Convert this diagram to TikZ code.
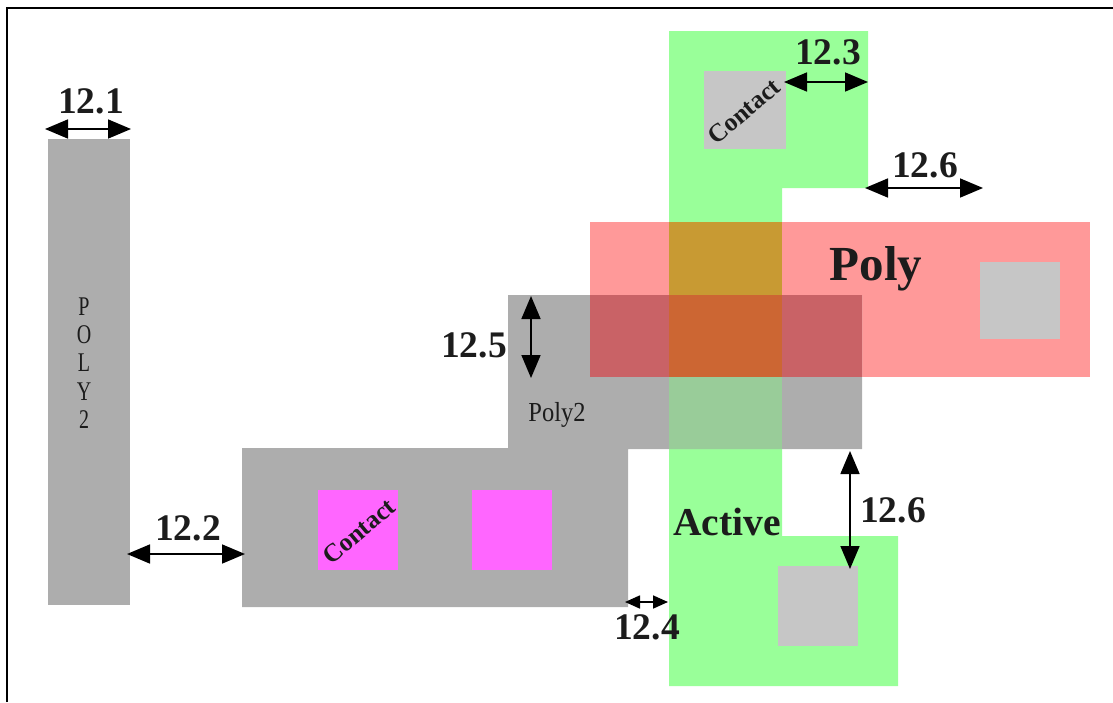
\documentclass[tikz,border=0pt]{standalone}
\usepackage{fontspec}
\setmainfont{Liberation Serif}
\usetikzlibrary{arrows.meta}
\definecolor{polyred}{HTML}{FF9999}
\definecolor{activegreen}{HTML}{99FF99}
\definecolor{polytwo}{HTML}{ADADAD}
\definecolor{contactgray}{HTML}{C6C6C6}
\definecolor{contactpink}{HTML}{FF66FF}
\definecolor{redgreen}{HTML}{C89A33}
\definecolor{redgray}{HTML}{C96266}
\definecolor{allthree}{HTML}{CC6633}
\definecolor{greengray}{HTML}{99CC99}
\definecolor{ink}{HTML}{1C1C1C}
\tikzset{
  dimlabel/.style={anchor=base,inner sep=0pt,text=ink,font=\bfseries\fontsize{37.5}{37.5}\selectfont},
  biglabel/.style={anchor=base,inner sep=0pt,text=ink,font=\bfseries\fontsize{49}{49}\selectfont},
  activelabel/.style={anchor=base,inner sep=0pt,text=ink,font=\bfseries\fontsize{39.5}{39.5}\selectfont},
  smalllabel/.style={inner sep=0pt,text=ink,font=\fontsize{25}{28.5}\selectfont},
  stacklabel/.style={inner sep=0pt,text=ink,font=\fontsize{25}{26.2}\selectfont},
  contactlabel/.style={inner sep=0pt,text=ink,rotate=40,font=\bfseries\fontsize{25.5}{25.5}\selectfont},
  dimarrow/.style={line width=1.7pt,black,{Stealth[length=23pt,width=19pt,inset=0pt]}-{Stealth[length=23pt,width=19pt,inset=0pt]}},
  tinyarrow/.style={line width=1.7pt,black,{Stealth[length=15pt,width=13pt,inset=0pt]}-{Stealth[length=15pt,width=13pt,inset=0pt]}}
}
\begin{document}
\begin{tikzpicture}[x=1pt,y=-1pt]
\useasboundingbox (0,0) rectangle (1113,702);
% frame
\draw[line width=2pt,black] (7,702) -- (7,8) -- (1113,8);
% active
\fill[activegreen] (669,31) -- (868,31) -- (868,188) -- (782,188) -- (782,536) -- (898,536) -- (898,686) -- (669,686) -- cycle;
% poly
\fill[polyred] (590,222) rectangle (1090,377);
% poly2
\fill[polytwo] (48,139) rectangle (130,605);
\fill[polytwo] (242,448) -- (508,448) -- (508,295) -- (862,295) -- (862,449) -- (628,449) -- (628,607) -- (242,607) -- cycle;
% overlaps
\fill[redgreen] (669,222) rectangle (782,295);
\fill[redgray] (590,295) rectangle (862,377);
\fill[allthree] (669,295) rectangle (782,377);
\fill[greengray] (669,377) rectangle (782,449);
% contacts
\fill[contactgray] (704,71) rectangle (786,149);
\fill[contactgray] (980,262) rectangle (1060,339);
\fill[contactgray] (778,566) rectangle (858,646);
\fill[contactpink] (318,490) rectangle (398,570);
\fill[contactpink] (472,490) rectangle (552,570);
% texts
\node[stacklabel,align=center,xscale=0.8,yscale=1.08] (vpoly) at (84,363) {P\\O\\L\\Y\\2};
\node[smalllabel,anchor=base,xscale=0.98,yscale=1.1] (hpoly) at (557,421) {Poly2};
\node[contactlabel] (c1) at (744,111) {Contact};
\node[contactlabel] (c2) at (359,531) {Contact};
\node[biglabel] (polyl) at (876,280) {Poly};
\node[activelabel] (activel) at (727,535) {Active};
\node[dimlabel] (d1) at (91,113) {12.1};
\node[dimlabel] (d2) at (188,540) {12.2};
\node[dimlabel] (d3) at (828,64) {12.3};
\node[dimlabel] (d4) at (647,639) {12.4};
\node[dimlabel] (d5) at (474,357) {12.5};
\node[dimlabel] (d6a) at (925,177) {12.6};
\node[dimlabel] (d6b) at (893,522) {12.6};
% arrow ends
\coordinate (a1l) at (45,129); \coordinate (a1r) at (131,129);
\coordinate (a2l) at (127,554); \coordinate (a2r) at (245,554);
\coordinate (a3l) at (784,82); \coordinate (a3r) at (868,82);
\coordinate (a4l) at (625,602); \coordinate (a4r) at (668,602);
\coordinate (a5t) at (531,296); \coordinate (a5b) at (531,378);
\coordinate (a6l) at (865,188); \coordinate (a6r) at (983,188);
\coordinate (a7t) at (850,451); \coordinate (a7b) at (850,569);
\draw[dimarrow] (a1l) -- (a1r);
\draw[dimarrow] (a2l) -- (a2r);
\draw[dimarrow] (a3l) -- (a3r);
\draw[tinyarrow] (a4l) -- (a4r);
\draw[dimarrow] (a5t) -- (a5b);
\draw[dimarrow] (a6l) -- (a6r);
\draw[dimarrow] (a7t) -- (a7b);
\end{tikzpicture}
\end{document}
